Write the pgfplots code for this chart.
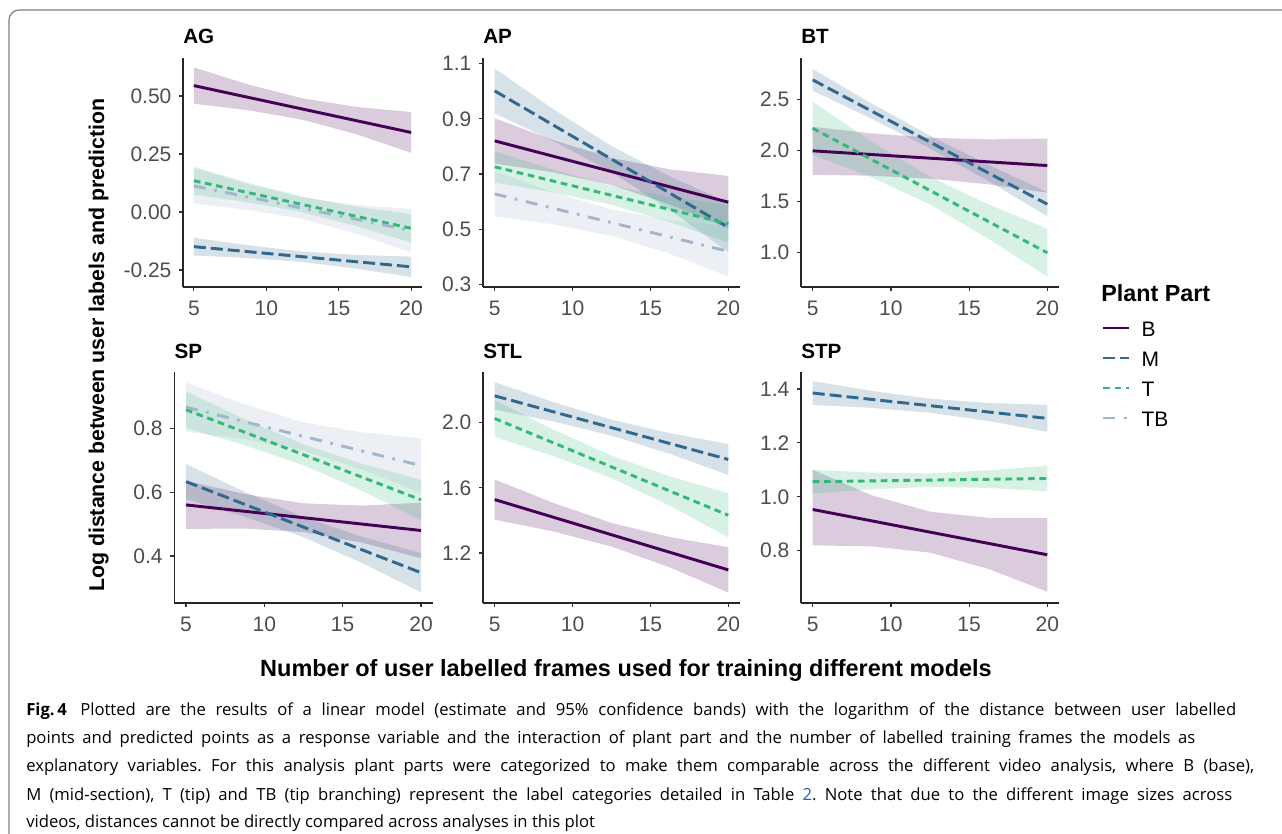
\documentclass[border=0pt]{standalone}
\usepackage{fontspec}
\setmainfont{Liberation Sans}
\newfontfamily\capfont{Open Sans}
\usepackage{pgfplots}
\pgfplotsset{compat=1.18}
\usepackage{pgfplotstable}

\definecolor{cB}{HTML}{440154}
\definecolor{cM}{HTML}{31688E}
\definecolor{cT}{HTML}{35B779}
\definecolor{cTB}{HTML}{A2B5CD}
\definecolor{gray30}{HTML}{4D4D4D}
\definecolor{linkblue}{HTML}{2A5DB0}
\definecolor{framegray}{HTML}{808080}

\newcommand\tickfont{\fontsize{15.75}{18}\selectfont}
\newcommand\titlefont{\bfseries\fontsize{15.5}{18}\selectfont}
\newcommand\legfont{\fontsize{15.75}{18}\selectfont}

% ---- estimates (straight lines) ----
\pgfplotstableread{
x   By     My      Ty      TBy
5   0.545  -0.149  0.135   0.113
20  0.343  -0.236  -0.070  -0.080
}\lnAG
\pgfplotstableread{
x   By     My      Ty      TBy
5   0.820  1.001   0.726   0.628
20  0.598  0.507   0.520   0.420
}\lnAP
\pgfplotstableread{
x   By     My      Ty
5   1.997  2.691   2.218
20  1.853  1.475   1.000
}\lnBT
\pgfplotstableread{
x   By     My      Ty      TBy
5   0.560  0.633   0.858   0.866
20  0.480  0.348   0.576   0.683
}\lnSP
\pgfplotstableread{
x   By     My      Ty
5   1.528  2.164   2.025
20  1.097  1.774   1.432
}\lnSTL
\pgfplotstableread{
x   By     My      Ty
5   0.953  1.385   1.056
20  0.785  1.291   1.068
}\lnSTP

% ---- 95% bands: upper edge left to right, then lower edge right to left ----
\pgfplotstableread{
x      B       M       T       TB
5      0.623   -0.111  0.195   0.189
8.75   0.550   -0.143  0.126   0.120
12.5   0.490   -0.170  0.066   0.063
16.25  0.453   -0.185  0.023   0.030
20     0.431   -0.192  -0.008  0.014
20     0.255   -0.280  -0.132  -0.174
16.25  0.335   -0.244  -0.061  -0.094
12.5   0.398   -0.215  -0.001  -0.030
8.75   0.439   -0.198  0.042   0.009
5      0.467   -0.187  0.075   0.037
}\bdAG
\pgfplotstableread{
x      B       M       T       TB
5      0.902   1.082   0.783   0.710
8.75   0.823   0.935   0.716   0.634
12.5   0.758   0.801   0.657   0.572
16.25  0.717   0.691   0.617   0.533
20     0.693   0.597   0.588   0.511
20     0.503   0.417   0.452   0.329
16.25  0.590   0.570   0.526   0.411
12.5   0.660   0.707   0.589   0.476
8.75   0.706   0.820   0.633   0.518
5      0.738   0.920   0.669   0.546
}\bdAP
\pgfplotstableread{
x      B       M       T
5      2.232   2.797   2.478
8.75   2.168   2.462   2.089
12.5   2.125   2.145   1.745
16.25  2.109   1.858   1.472
20     2.118   1.593   1.236
20     1.588   1.357   0.764
16.25  1.669   1.700   1.137
12.5   1.725   2.021   1.473
8.75   1.754   2.312   1.738
5      1.762   2.585   1.958
}\bdBT
\pgfplotstableread{
x      B       M       T       TB
5      0.635   0.688   0.916   0.943
8.75   0.594   0.601   0.828   0.875
12.5   0.565   0.522   0.750   0.819
16.25  0.558   0.460   0.689   0.787
20     0.567   0.409   0.639   0.769
20     0.393   0.287   0.513   0.597
16.25  0.442   0.378   0.604   0.671
12.5   0.475   0.459   0.684   0.730
8.75   0.486   0.523   0.747   0.766
5      0.485   0.578   0.800   0.789
}\bdSP
\pgfplotstableread{
x      B       M       T
5      1.651   2.248   2.137
8.75   1.508   2.126   1.958
12.5   1.385   2.018   1.797
16.25  1.298   1.935   1.670
20     1.236   1.869   1.568
20     0.958   1.679   1.296
16.25  1.112   1.808   1.490
12.5   1.240   1.920   1.660
8.75   1.333   2.007   1.795
5      1.405   2.080   1.913
}\bdSTL
\pgfplotstableread{
x      B       M       T
5      1.100   1.429   1.100
8.75   1.006   1.393   1.090
12.5   0.945   1.364   1.087
16.25  0.922   1.348   1.098
20     0.922   1.341   1.116
20     0.648   1.241   1.020
16.25  0.732   1.281   1.033
12.5   0.793   1.312   1.037
8.75   0.816   1.330   1.028
5      0.820   1.341   1.012
}\bdSTP

\pgfplotsset{
  panel/.style={
    scale only axis, anchor=south west,
    axis x line*=bottom, axis y line*=left,
    axis line style={-, line width=1.1pt, black!85},
    xmin=4.25, xmax=20.75,
    xtick={5,10,15,20}, xticklabels={5,10,15,20},
    tick align=outside, major tick length=3pt,
    tick style={line width=0.9pt, black!80},
    ticklabel style={font=\tickfont, text=gray30},
    yticklabel style={anchor=east, inner sep=0pt, xshift=-5.5pt},
    xticklabel style={anchor=north, inner sep=0pt, yshift=-7pt},
  },
  lB/.style={color=cB, line width=2.2pt, solid},
  lM/.style={color=cM, line width=2.2pt, dash pattern=on 9pt off 3.75pt},
  lT/.style={color=cT, line width=2.2pt, dash pattern=on 5pt off 3.5pt},
  lTB/.style={color=cTB, line width=2.2pt, dash pattern=on 9pt off 6.5pt on 2pt off 6.5pt},
}

% #1 band table, #2 series, #3 colour
\newcommand{\band}[3]{\addplot[fill=#3, fill opacity=0.2, draw=none, forget plot] table[x=x,y=#2]{#1};}
% #1 line table, #2 series
\newcommand{\est}[2]{\addplot[l#2, forget plot] table[x=x,y=#2y]{#1};}

\begin{document}
\frenchspacing
\begin{tikzpicture}
\useasboundingbox (0pt,0pt) rectangle (961.5pt,-624.75pt);
\draw[framegray, line width=0.9pt, rounded corners=7.5pt] (6.75pt,-630pt) -- (6.75pt,-7.5pt) -- (965pt,-7.5pt);

% ---- AG
\begin{axis}[panel, at={(137.25pt,-215.25pt)}, width=179.25pt, height=171.75pt,
  ymin=-0.323, ymax=0.664, ytick={-0.25,0,0.25,0.5}, yticklabels={-0.25,0.00,0.25,0.50}]
  \band{\bdAG}{B}{cB}
  \band{\bdAG}{M}{cM}
  \band{\bdAG}{T}{cT}
  \band{\bdAG}{TB}{cTB}
  \est{\lnAG}{B}
  \est{\lnAG}{M}
  \est{\lnAG}{T}
  \est{\lnAG}{TB}
\end{axis}
\node[anchor=base west, inner sep=0pt, font=\titlefont] at (137.25pt,-32.25pt) {AG};

% ---- AP
\begin{axis}[panel, at={(362.25pt,-215.25pt)}, width=192.75pt, height=171.75pt,
  ymin=0.291, ymax=1.120, ytick={0.3,0.5,0.7,0.9,1.1}, yticklabels={0.3,0.5,0.7,0.9,1.1}]
  \band{\bdAP}{B}{cB}
  \band{\bdAP}{M}{cM}
  \band{\bdAP}{T}{cT}
  \band{\bdAP}{TB}{cTB}
  \est{\lnAP}{B}
  \est{\lnAP}{M}
  \est{\lnAP}{T}
  \est{\lnAP}{TB}
\end{axis}
\node[anchor=base west, inner sep=0pt, font=\titlefont] at (362.25pt,-32.25pt) {AP};

% ---- BT (carries the legend)
\begin{axis}[panel, at={(600.75pt,-215.25pt)}, width=193.5pt, height=171.75pt,
  ymin=0.665, ymax=2.905, ytick={1,1.5,2,2.5}, yticklabels={1.0,1.5,2.0,2.5},
  legend cell align=left,
  legend image code/.code={\draw[#1] (0pt,1pt) -- (19.5pt,1pt);},
  legend style={at={(1.1667,-0.152)}, anchor=north west, draw=none, fill=none,
    inner sep=0pt, outer sep=0pt, row sep=11.25pt, column sep=8pt, font=\legfont,
    nodes={inner sep=0pt, text height=11.25pt, text depth=0pt}}]
  \band{\bdBT}{B}{cB}
  \band{\bdBT}{M}{cM}
  \band{\bdBT}{T}{cT}
  \est{\lnBT}{B}
  \est{\lnBT}{M}
  \est{\lnBT}{T}
  \addlegendimage{lB}\addlegendentry{B}
  \addlegendimage{lM}\addlegendentry{M}
  \addlegendimage{lT}\addlegendentry{T}
  \addlegendimage{lTB}\addlegendentry{TB}
\end{axis}
\node[anchor=base west, inner sep=0pt, font=\titlefont] at (600.75pt,-32.25pt) {BT};

% ---- SP
\begin{axis}[panel, at={(130.69pt,-452.25pt)}, width=193.875pt, height=173.25pt,
  ymin=0.253, ymax=0.976, ytick={0.4,0.6,0.8}, yticklabels={0.4,0.6,0.8}]
  \band{\bdSP}{B}{cB}
  \band{\bdSP}{M}{cM}
  \band{\bdSP}{T}{cT}
  \band{\bdSP}{TB}{cTB}
  \est{\lnSP}{B}
  \est{\lnSP}{M}
  \est{\lnSP}{T}
  \est{\lnSP}{TB}
\end{axis}
\node[anchor=base west, inner sep=0pt, font=\titlefont] at (130.69pt,-268.5pt) {SP};

% ---- STL
\begin{axis}[panel, at={(362.25pt,-452.25pt)}, width=192.75pt, height=173.25pt,
  ymin=0.894, ymax=2.31, ytick={1.2,1.6,2.0}, yticklabels={1.2,1.6,2.0}]
  \band{\bdSTL}{B}{cB}
  \band{\bdSTL}{M}{cM}
  \band{\bdSTL}{T}{cT}
  \est{\lnSTL}{B}
  \est{\lnSTL}{M}
  \est{\lnSTL}{T}
\end{axis}
\node[anchor=base west, inner sep=0pt, font=\titlefont] at (362.25pt,-268.5pt) {STL};

% ---- STP
\begin{axis}[panel, at={(600.75pt,-452.25pt)}, width=193.5pt, height=173.25pt,
  ymin=0.606, ymax=1.463, ytick={0.8,1.0,1.2,1.4}, yticklabels={0.8,1.0,1.2,1.4}]
  \band{\bdSTP}{B}{cB}
  \band{\bdSTP}{M}{cM}
  \band{\bdSTP}{T}{cT}
  \est{\lnSTP}{B}
  \est{\lnSTP}{M}
  \est{\lnSTP}{T}
\end{axis}
\node[anchor=base west, inner sep=0pt, font=\titlefont] at (600.75pt,-268.5pt) {STP};

% ---- shared labels and legend title
\node[rotate=90, anchor=base, inner sep=0pt, font=\bfseries\fontsize{16}{19}\selectfont] at (78pt,-259pt) {Log distance between user labels and prediction};
\node[anchor=base, inner sep=0pt, font=\bfseries\fontsize{17.6}{20}\selectfont] at (469.5pt,-507pt) {Number of user labelled frames used for training different models};
\node[anchor=base west, inner sep=0pt, font=\bfseries\fontsize{17.5}{20}\selectfont] at (825.75pt,-226.3pt) {Plant Part};

% ---- caption
\begin{scope}[every node/.style={anchor=base west, inner sep=0pt, font=\capfont\fontsize{12.5}{15}\selectfont}]
\node at (19.5pt,-536.25pt) {\makebox[907.5pt][s]{\textbf{Fig.\,4}\hspace{0.8em}Plotted are the results of a linear model (estimate and 95\% confidence bands) with the logarithm of the distance between user labelled}};
\node at (19.5pt,-557.6pt) {\makebox[876.75pt][s]{points and predicted points as a response variable and the interaction of plant part and the number of labelled training frames the models as}};
\node at (19.5pt,-578.6pt) {\makebox[921pt][s]{explanatory variables. For this analysis plant parts were categorized to make them comparable across the different video analysis, where B (base),}};
\node at (19.5pt,-600pt) {\makebox[904.5pt][s]{M (mid-section), T (tip) and TB (tip branching) represent the label categories detailed in Table \textcolor{linkblue}{2}. Note that due to the different image sizes across}};
\node at (19.5pt,-620.6pt) {videos, distances cannot be directly compared across analyses in this plot};
\end{scope}
\end{tikzpicture}
\end{document}
